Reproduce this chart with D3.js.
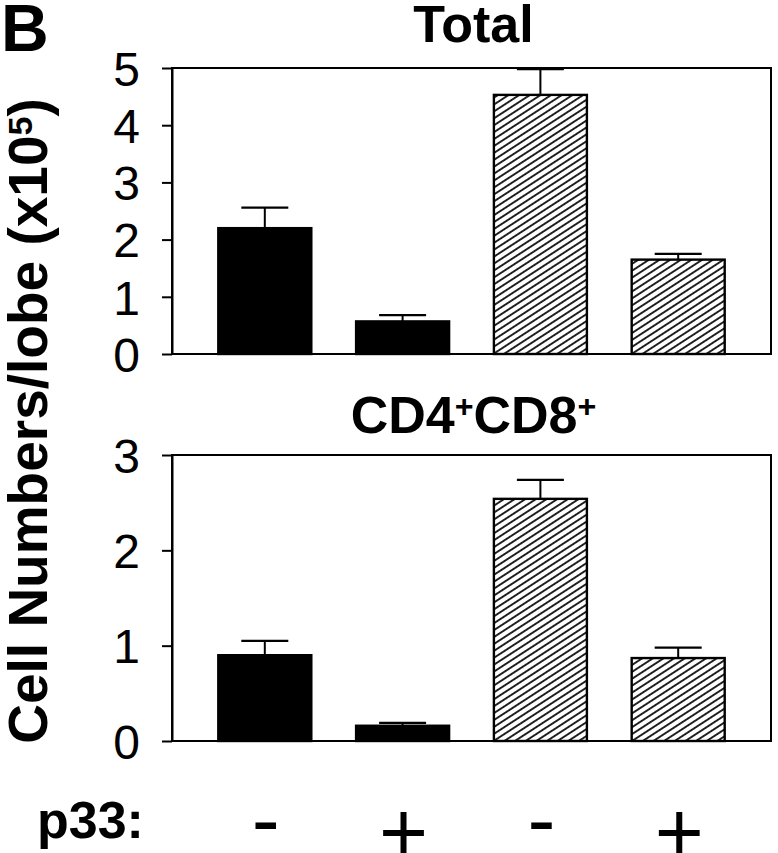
<!DOCTYPE html>
<html>
<head>
<meta charset="utf-8">
<script src="https://cdnjs.cloudflare.com/ajax/libs/d3/7.8.5/d3.min.js"></script>
<style>
	body { margin: 0; background: #fff; }
	svg { display: block; font-family: "Liberation Sans", Arial, Helvetica, sans-serif; }
	.axis path, .axis line { stroke: #000; stroke-width: 2px; }
	.axis text { font-size: 48px; fill: #000; }
</style>
</head>
<body>
<svg id="chart" width="778" height="853"></svg>
<script>

// p33 status for each bar, left to right
var p33 = [ '-', '+', '-', '+' ];
var fills = [ 'solid', 'solid', 'hatch', 'hatch' ];

// Total cells/lobe (x10^5)
var totalMeans = [ 2.20, 0.57, 4.53, 1.65 ];
var totalErrs = [ 0.36, 0.11, 0.45, 0.10 ];
var totalTicks = [ 0, 1, 2, 3, 4, 5 ];

// CD4+CD8+ cells/lobe (x10^5)
var dpMeans = [ 0.90, 0.16, 2.54, 0.87 ];
var dpErrs = [ 0.15, 0.03, 0.20, 0.11 ];
var dpTicks = [ 0, 1, 2, 3 ];

var svg = d3.select( '#chart' );

var left = 172, right = 771;

// diagonal hatching
var defs = svg.append( 'defs' );
defs.append( 'pattern' )
	.attr( 'id', 'hatch' )
	.attr( 'patternUnits', 'userSpaceOnUse' )
	.attr( 'width', 12 )
	.attr( 'height', 5.8 )
	.attr( 'patternTransform', 'rotate(-33)' )
	.append( 'line' )
	.attr( 'x1', 0 ).attr( 'x2', 12 )
	.attr( 'y1', 2.9 ).attr( 'y2', 2.9 )
	.attr( 'stroke', '#000' )
	.attr( 'stroke-width', 1.7 );

var x = d3.scaleBand()
	.domain( d3.range( p33.length ) )
	.range( [ left, right ] )
	.paddingInner( 0.325 )
	.paddingOuter( 0.336 );

function drawPanel( opts ) {

	var y = d3.scaleLinear().domain( [ 0, d3.max( opts.ticks ) ] ).range( [ opts.bottom, opts.top ] );
	var g = svg.append( 'g' );

	// frame
	g.append( 'rect' )
		.attr( 'x', left )
		.attr( 'y', opts.top )
		.attr( 'width', right - left )
		.attr( 'height', opts.bottom - opts.top )
		.attr( 'fill', 'none' )
		.attr( 'stroke', '#000' )
		.attr( 'stroke-width', 2 );

	var yAxis = d3.axisLeft( y )
		.tickValues( opts.ticks )
		.tickFormat( d3.format( 'd' ) )
		.tickSize( 10 )
		.tickSizeOuter( 0 )
		.tickPadding( 22 );

	g.append( 'g' )
		.classed( 'axis', true )
		.attr( 'transform', 'translate(' + left + ',0)' )
		.call( yAxis )
		.selectAll( 'text' )
		.attr( 'dy', '0.36em' );

	// bars
	g.selectAll( 'rect.bar' )
		.data( opts.means )
		.enter()
		.append( 'rect' )
		.classed( 'bar', true )
		.attr( 'x', function ( d, i ) { return x( i ); } )
		.attr( 'y', function ( d ) { return y( d ); } )
		.attr( 'width', x.bandwidth() )
		.attr( 'height', function ( d ) { return opts.bottom - y( d ); } )
		.attr( 'fill', function ( d, i ) { return fills[i] === 'solid' ? '#000' : 'url(#hatch)'; } )
		.attr( 'stroke', '#000' )
		.attr( 'stroke-width', 2.4 );

	// error bars (upper only)
	var capW = 47;
	opts.means.forEach( function ( m, i ) {
		var cx = x( i ) + x.bandwidth() / 2;
		var top = y( m + opts.errs[i] );
		g.append( 'line' )
			.attr( 'x1', cx ).attr( 'x2', cx )
			.attr( 'y1', y( m ) ).attr( 'y2', top )
			.attr( 'stroke', '#000' ).attr( 'stroke-width', 2 );
		g.append( 'line' )
			.attr( 'x1', cx - capW / 2 ).attr( 'x2', cx + capW / 2 )
			.attr( 'y1', top ).attr( 'y2', top )
			.attr( 'stroke', '#000' ).attr( 'stroke-width', 2.2 );
	} );

	var title = g.append( 'text' )
		.attr( 'x', ( left + right ) / 2 + 2 )
		.attr( 'y', opts.titleY )
		.attr( 'text-anchor', 'middle' )
		.style( 'font-weight', 'bold' )
		.style( 'font-size', opts.titleSize + 'px' );
	opts.title.forEach( function ( part ) {
		var t = title.append( 'tspan' ).text( part.text );
		if ( part.sup ) {
			t.attr( 'baseline-shift', '50%' ).style( 'font-size', '62%' );
		}
	} );
}

drawPanel( {
	top: 68, bottom: 354,
	means: totalMeans, errs: totalErrs, ticks: totalTicks,
	title: [ { text: 'Total' } ], titleY: 42, titleSize: 52
} );

drawPanel( {
	top: 455, bottom: 741,
	means: dpMeans, errs: dpErrs, ticks: dpTicks,
	title: [ { text: 'CD4' }, { text: '+', sup: true }, { text: 'CD8' }, { text: '+', sup: true } ],
	titleY: 433, titleSize: 52
} );

// panel letter
svg.append( 'text' )
	.attr( 'x', 1 )
	.attr( 'y', 51 )
	.style( 'font-weight', 'bold' )
	.style( 'font-size', '66px' )
	.text( 'B' );

// y axis title
var yt = svg.append( 'text' )
	.attr( 'transform', 'translate(47,421) rotate(-90)' )
	.attr( 'text-anchor', 'middle' )
	.style( 'font-weight', 'bold' )
	.style( 'font-size', '55px' );
yt.append( 'tspan' ).text( 'Cell Numbers/lobe (x10' );
yt.append( 'tspan' ).text( '5' ).attr( 'baseline-shift', '45%' ).style( 'font-size', '62%' );
yt.append( 'tspan' ).text( ')' );

// p33 row
svg.append( 'text' )
	.attr( 'x', 37 )
	.attr( 'y', 838 )
	.style( 'font-weight', 'bold' )
	.style( 'font-size', '52px' )
	.text( 'p33:' );

svg.selectAll( 'text.sign' )
	.data( p33 )
	.enter()
	.append( 'text' )
	.classed( 'sign', true )
	.attr( 'x', function ( d, i ) { return x( i ) + x.bandwidth() / 2 + 1; } )
	.attr( 'y', function ( d ) { return d === '+' ? 860 : 848; } )
	.attr( 'text-anchor', 'middle' )
	.style( 'font-size', '84px' )
	.text( function ( d ) { return d; } );

</script>
</body>
</html>
